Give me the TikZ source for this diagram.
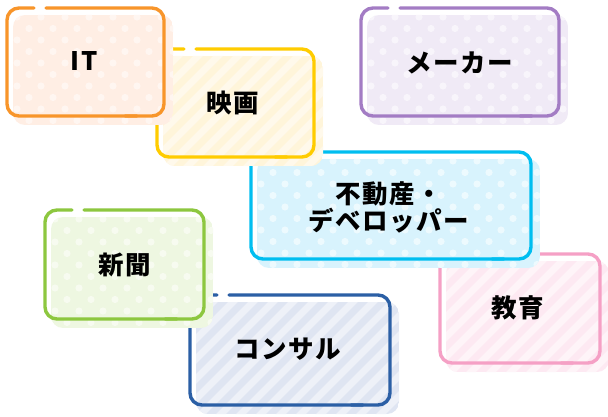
\documentclass[tikz,border=0pt]{standalone}
\usepackage{fontspec}
\newfontfamily\jpfont[LetterSpace=6]{Noto Sans CJK JP}
\definecolor{itB}{HTML}{F8952A}\definecolor{itF}{HTML}{FFEEE4}\definecolor{itD}{HTML}{FFF6F1}
\definecolor{eiB}{HTML}{FFCC00}\definecolor{eiF}{HTML}{FFF5DA}\definecolor{eiS}{HTML}{FFF9EB}
\definecolor{meB}{HTML}{A37CC4}\definecolor{meF}{HTML}{F0EAF6}\definecolor{meD}{HTML}{F8F5FB}
\definecolor{fuB}{HTML}{00BEF0}\definecolor{fuF}{HTML}{D8F3FD}\definecolor{fuD}{HTML}{EDFAFE}
\definecolor{shB}{HTML}{8DC73F}\definecolor{shF}{HTML}{EEF7E1}\definecolor{shD}{HTML}{F7FBF0}
\definecolor{koB}{HTML}{2B5FA5}\definecolor{koF}{HTML}{DFE5F2}\definecolor{koS}{HTML}{EEF1F8}
\definecolor{kyB}{HTML}{F5A0C5}\definecolor{kyF}{HTML}{FDE9F2}\definecolor{kyS}{HTML}{FEF4F8}
\tikzset{
  bordersty/.style={line width=3.4pt, line cap=round, rounded corners=12pt},
  lbl/.style={font=\jpfont\bfseries\fontsize{25.5}{27}\selectfont, text=black, align=center, inner sep=0pt}
}
\newcommand\gapborder[5]{%
  \draw[bordersty, #5] ({#1+39},#2) -- (#3,#2) -- (#3,#4) -- ({#3-39},#4);
  \draw[bordersty, #5] ({#3-27},#4) -- (#1,#4) -- (#1,#2) -- ({#1+27},#2);
}
\newcommand\dotsfill[6]{%
  \begin{scope}
    \clip[rounded corners=12pt] ({#1+6},{#2+7}) rectangle ({#3+9},{#4+9});
    \fill[#5] ({#1+6},{#2+7}) rectangle ({#3+9},{#4+9});
    \foreach \j in {0,...,11}{\foreach \i in {0,...,12}{
      \fill[#6] ({#1+10+24*\i+12*mod(\j,2)},{#2+9+11.5*\j}) circle[radius=3.6pt];}}
  \end{scope}
}
\newcommand\stripesfill[6]{%
  \begin{scope}
    \clip[rounded corners=12pt] ({#1+6},{#2+7}) rectangle ({#3+9},{#4+9});
    \fill[#5] ({#1+6},{#2+7}) rectangle ({#3+9},{#4+9});
    \foreach \k in {-8,...,14}{
      \draw[#6, line width=7pt] ({#1+20*\k},{#4+20}) -- ++(160,-160);}
  \end{scope}
}
\begin{document}
\begin{tikzpicture}[x=1pt,y=-1pt]
\useasboundingbox[fill=white] (0,0) rectangle (608,417);
% コンサル
\stripesfill{190}{295}{390}{405}{koF}{koS}
\gapborder{190}{295}{390}{405}{koB}
\node[lbl] (ko) at (288,349) {コンサル};
% 教育
\stripesfill{440}{254}{600}{363}{kyF}{kyS}
\gapborder{440}{254}{600}{363}{kyB}
\node[lbl] (ky) at (518,308) {教育};
% 新聞
\dotsfill{45}{210}{204}{319}{shF}{shD}
\gapborder{45}{210}{204}{319}{shB}
\node[lbl] (sh) at (125,265) {新聞};
% 不動産
\dotsfill{251}{152}{531}{259}{fuF}{fuD}
\gapborder{251}{152}{531}{259}{fuB}
\node[lbl] (fu) at (389,207) {不動産・\\デベロッパー};
% 映画
\stripesfill{157}{49}{314}{157}{eiF}{eiS}
\gapborder{157}{49}{314}{157}{eiB}
\node[lbl] (ei) at (233,103) {映画};
% IT
\dotsfill{7}{8}{164}{116}{itF}{itD}
\gapborder{7}{8}{164}{116}{itB}
\node[lbl] (it) at (84,61) {IT};
% メーカー
\dotsfill{361}{8}{559}{116}{meF}{meD}
\gapborder{361}{8}{559}{116}{meB}
\node[lbl] (me) at (460,63) {メーカー};
\end{tikzpicture}
\end{document}
